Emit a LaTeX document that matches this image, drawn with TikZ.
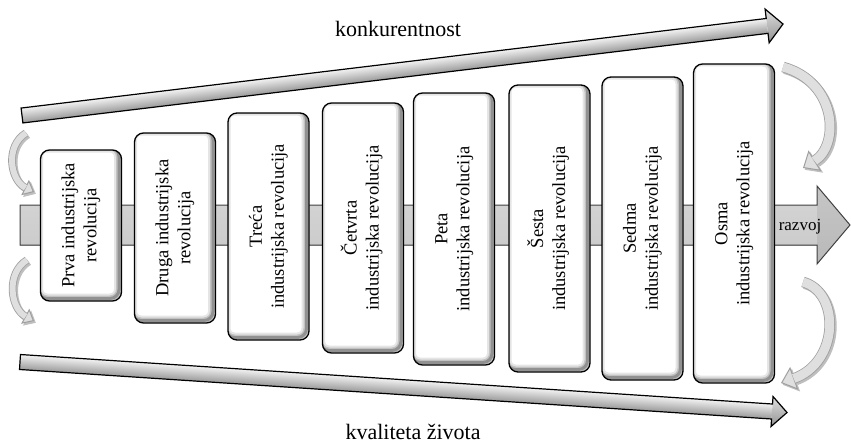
\documentclass[tikz,border=0pt]{standalone}
\usepackage{fontspec}
\setmainfont{Liberation Serif}
\usepackage{graphicx}
\usetikzlibrary{arrows.meta}

% curved side arrow: #1 shaft width, #2 head length, #3 head width,
% #4 start, #5 first control, #6 second control, #7 end
\newcommand\curvedarr[7]{%
  \begin{scope}[shift={(1.8,1.8)}]
    \draw[black!25, line width=#1pt+1.4pt,
      -{Triangle[length=#2pt, width=#3pt, line width=0.9pt]}]
      #4 .. controls #5 and #6 .. #7;
  \end{scope}
  \draw[gray!75, line width=#1pt+1.6pt,
    -{Triangle[length=#2pt, width=#3pt, fill=gray!25, line width=1pt]}]
    #4 .. controls #5 and #6 .. #7;
  \draw[gray!25, line width=#1pt, shorten >=#2pt-0.5pt] #4 .. controls #5 and #6 .. #7;
}

\tikzset{
  revbox/.style={draw=black, line width=1.3pt, fill=white, rounded corners=9pt,
    inner sep=0pt, outer sep=0pt, minimum width=81pt,
    font=\fontsize{18.5}{22}\selectfont,
    path picture={
      \foreach \lw/\op in {10/0.10,6/0.15,3/0.25}{
        \draw[black, opacity=\op, line width=\lw pt, rounded corners=9pt]
          ([xshift=-2.5pt,yshift=2.5pt]path picture bounding box.south west) rectangle
          ([xshift=-2.5pt,yshift=2.5pt]path picture bounding box.north east);}
    }},
  bigtext/.style={font=\fontsize{22}{26}\selectfont, inner sep=0pt},
  longshaft/.style={top color=gray!10, middle color=white, bottom color=gray!80},
  longhead/.style={top color=gray!25, middle color=white, bottom color=gray!85},
  mainshaft/.style={top color=gray!35, middle color=gray!5, bottom color=gray!40},
  mainhead/.style={top color=gray!45, middle color=gray!8, bottom color=gray!55}
}

\newcommand\rottext[1]{\rotatebox{90}{\begin{tabular}{@{}c@{}}#1\end{tabular}}}

\begin{document}
\begin{tikzpicture}[x=1pt, y=-1pt]
\useasboundingbox (0,0) rectangle (851,444);

% horizontal development arrow behind the boxes
\path[mainshaft] (20,205) rectangle (817,245);
\path[mainhead] (817,186) -- (850,225) -- (817,264) -- cycle;
\draw[black!75, line width=1pt, line join=miter] (20,205) -- (817,205) -- (817,186)
  -- (850,225) -- (817,264) -- (817,245) -- (20,245) -- cycle;
\node[font=\fontsize{17}{20}\selectfont, inner sep=0pt, anchor=base] (razv) at (800,230) {razvoj};

% the eight revolutions
\node[revbox, minimum height=151pt] (b1) at (81,225.5) {\rottext{Prva industrijska\\revolucija}};
\node[revbox, minimum height=190pt] (b2) at (175,228) {\rottext{Druga industrijska\\revolucija}};
\node[revbox, minimum height=227pt] (b3) at (268.5,226.5) {\rottext{Treća\\industrijska revolucija}};
\node[revbox, minimum height=250pt] (b4) at (363,228) {\rottext{Četvrta\\industrijska revolucija}};
\node[revbox, minimum height=272pt] (b5) at (454,229) {\rottext{Peta\\industrijska revolucija}};
\node[revbox, minimum height=287pt] (b6) at (549.5,228.5) {\rottext{Šesta\\industrijska revolucija}};
\node[revbox, minimum height=303pt] (b7) at (642.5,228.5) {\rottext{Sedma\\industrijska revolucija}};
\node[revbox, minimum height=319pt] (b8) at (734,223.5) {\rottext{Osma\\industrijska revolucija}};

% rising arrow: konkurentnost
\begin{scope}[transform canvas={shift={(22,115.5)}, rotate=6.856}]
  \path[longshaft] (0,-7.5) rectangle (750.5,7.5);
  \path[longhead] (750.5,-17) -- (766.5,0) -- (750.5,17) -- cycle;
  \draw[black, line width=1.2pt, line join=miter] (0,-7.5) -- (750.5,-7.5) -- (750.5,-17)
    -- (766.5,0) -- (750.5,17) -- (750.5,7.5) -- (0,7.5) -- cycle;
\end{scope}
\node[bigtext, anchor=base] (konk) at (398,37) {konkurentnost};

% falling arrow: kvaliteta zivota
\begin{scope}[transform canvas={shift={(20,362)}, rotate=-3.767}]
  \path[longshaft] (0,-7.5) rectangle (753.7,7.5);
  \path[longhead] (753.7,-15) -- (768.7,0) -- (753.7,15) -- cycle;
  \draw[black, line width=1.2pt, line join=miter] (0,-7.5) -- (753.7,-7.5) -- (753.7,-15)
    -- (768.7,0) -- (753.7,15) -- (753.7,7.5) -- (0,7.5) -- cycle;
\end{scope}
\node[bigtext, anchor=base] (kval) at (413,439) {kvaliteta života};

% curved arrows at both ends
\curvedarr{6}{10}{17}{(26,133)}{(5,146)}{(10,180)}{(34,192)}
\curvedarr{6}{10}{17}{(27,260)}{(6,273)}{(10,308)}{(34,321)}
\curvedarr{9}{14}{24}{(783,67)}{(837,82)}{(840,145)}{(803,168)}
\curvedarr{9}{14}{24}{(803,282)}{(840,292)}{(840,362)}{(781,383)}
\end{tikzpicture}
\end{document}
